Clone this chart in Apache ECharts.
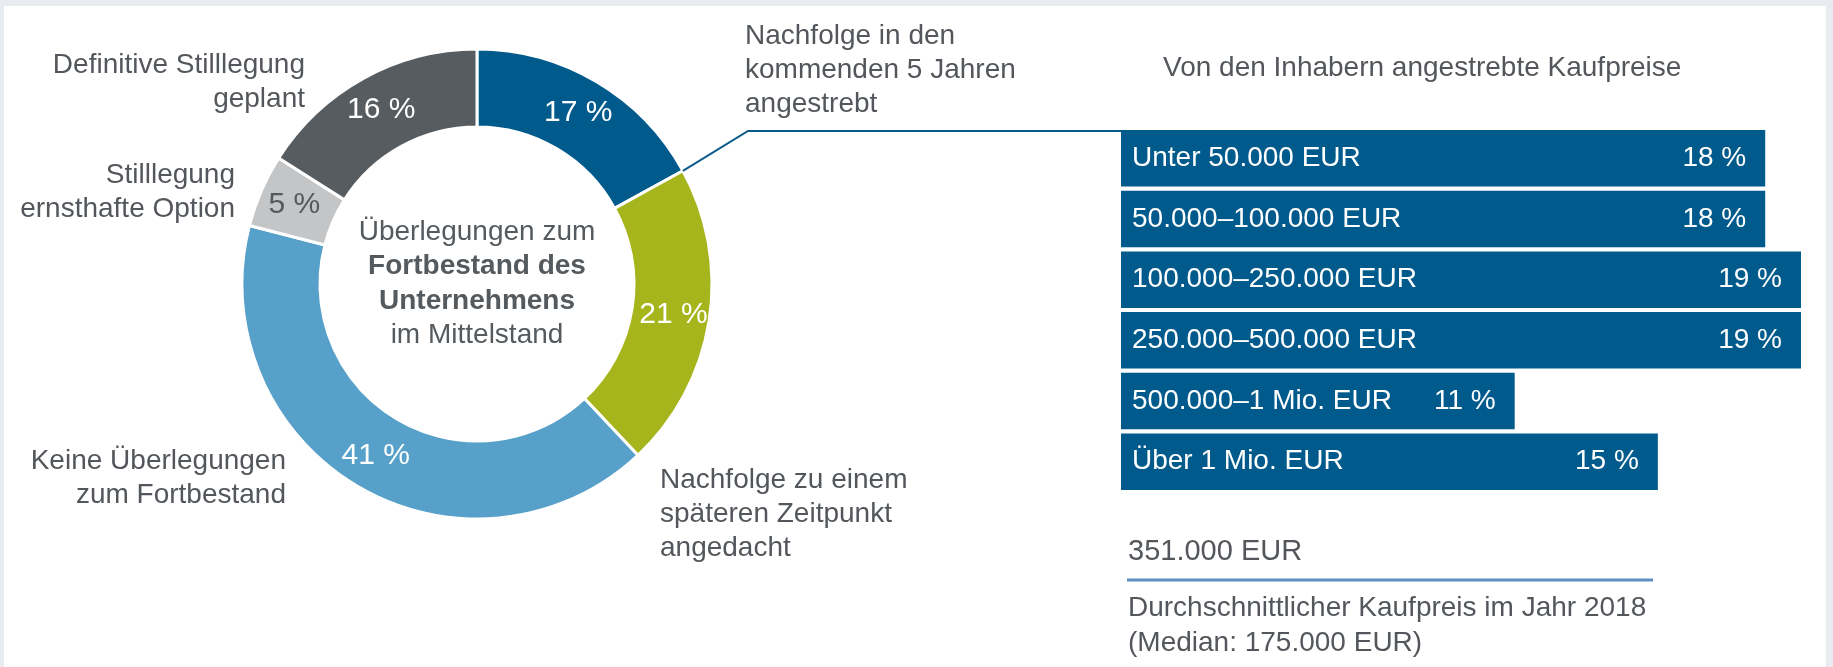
<!DOCTYPE html>
<html>
<head>
<meta charset="utf-8">
<title>Fortbestand des Unternehmens im Mittelstand</title>
<script src="https://cdn.jsdelivr.net/npm/echarts@6/dist/echarts.min.js"></script>
<style>
  html, body { margin: 0; padding: 0; }
  #wrap { position: relative; width: 1833px; height: 667px; background: #e8ecf0; overflow: hidden; }
  #panel { position: absolute; left: 4px; top: 6px; right: 7px; bottom: 0; background: #fff; }
  #chart { position: absolute; left: 0; top: 0; width: 1833px; height: 667px; }
</style>
</head>
<body>
<div id="wrap"><div id="panel"></div><div id="chart"></div></div>
<script>
// Donut: Überlegungen zum Fortbestand (Anteile in %)
var pieNames = [
  "Nachfolge in den\nkommenden 5 Jahren\nangestrebt",
  "Nachfolge zu einem\nspäteren Zeitpunkt\nangedacht",
  "Keine Überlegungen\nzum Fortbestand",
  "Stilllegung\nernsthafte Option",
  "Definitive Stilllegung\ngeplant"
];
var pieValues = [17, 21, 41, 5, 16];
var centerLines = ["Überlegungen zum", "Fortbestand des", "Unternehmens", "im Mittelstand"];

// Balken: angestrebte Kaufpreise (in %)
var barTitle = "Von den Inhabern angestrebte Kaufpreise";
var priceCats = [
  "Unter 50.000 EUR",
  "50.000–100.000 EUR",
  "100.000–250.000 EUR",
  "250.000–500.000 EUR",
  "500.000–1 Mio. EUR",
  "Über 1 Mio. EUR"
];
var priceValues = [18, 18, 19, 19, 11, 15];
var avgPrice = "351.000 EUR";
var avgNote = "Durchschnittlicher Kaufpreis im Jahr 2018\n(Median: 175.000 EUR)";

// styles / layout
var font = "'Liberation Sans', Arial, sans-serif";
var textGray = "#53575b";
var pieColors = ["#005a8c", "#a6b51c", "#56a0c9", "#c3c5c7", "#575c61"];
var pieLabelColors = ["#fff", "#fff", "#fff", "#55595d", "#fff"];
var pieCenter = [477, 284];
var pieRadius = [157, 235];
// outer label anchors: x, y, align
var outerPos = [[745, 70, "left"], [660, 514, "left"], [286, 478, "right"], [235, 192, "right"], [305, 82, "right"]];
var gridLeft = 1121, gridTop = 128;

var chart = echarts.init(document.getElementById("chart"));

// connector from the edge of the first slice to the bar block
var total = pieValues.reduce(function (a, b) { return a + b; }, 0);
var ang = (90 - pieValues[0] / total * 360) * Math.PI / 180;
var sx = pieCenter[0] + pieRadius[1] * Math.cos(ang);
var sy = pieCenter[1] - pieRadius[1] * Math.sin(ang);

var graphics = [
  {
    type: "polyline",
    shape: { points: [[sx, sy], [748, 131], [gridLeft, 131]] },
    style: { stroke: "#0a5a8a", lineWidth: 2, fill: null },
    z: 5
  },
  {
    type: "text", x: 1163, y: 68,
    style: { text: barTitle, font: "28px " + font, fill: textGray, textAlign: "left", textVerticalAlign: "middle" }
  },
  {
    type: "text", x: 1128, y: 552,
    style: { text: avgPrice, font: "29px " + font, fill: textGray, textAlign: "left", textVerticalAlign: "middle" }
  },
  {
    type: "line",
    shape: { x1: 1127, y1: 580, x2: 1653, y2: 580 },
    style: { stroke: "#5b90bf", lineWidth: 3 }
  },
  {
    type: "text", x: 1128, y: 626,
    style: { text: avgNote, font: "28px " + font, fill: textGray, lineHeight: 35, textAlign: "left", textVerticalAlign: "middle" }
  }
];
centerLines.forEach(function (t, i) {
  graphics.push({
    type: "text", x: pieCenter[0], y: pieCenter[1] + (i - 1.5) * 34.5,
    style: {
      text: t,
      font: (i === 1 || i === 2 ? "bold " : "") + "28px " + font,
      fill: "#555a5e", textAlign: "center", textVerticalAlign: "middle"
    }
  });
});

chart.setOption({
  animation: false,
  grid: { left: gridLeft, top: gridTop, right: 32, bottom: 175, containLabel: false },
  xAxis: { type: "value", min: 0, max: 19, show: false },
  yAxis: {
    type: "category",
    data: priceCats,
    inverse: true,
    z: 10,
    axisLine: { show: false },
    axisTick: { show: false },
    splitLine: { show: false },
    axisLabel: { inside: true, margin: 11, color: "#fff", fontSize: 28, fontFamily: font }
  },
  graphic: graphics,
  series: [
    {
      type: "bar",
      data: priceValues,
      barCategoryGap: "7%",
      itemStyle: { color: "#005a8c" },
      label: {
        show: true, position: "insideRight", distance: 19,
        formatter: "{c} %", color: "#fff", fontSize: 28, fontFamily: font
      },
      emphasis: { disabled: true }
    },
    {
      type: "pie",
      center: pieCenter,
      radius: pieRadius,
      startAngle: 90,
      avoidLabelOverlap: false,
      itemStyle: { borderColor: "#fff", borderWidth: 3 },
      label: { show: true, position: "inside", formatter: "{c} %", fontSize: 30, fontFamily: font },
      labelLine: { show: false },
      emphasis: { disabled: true },
      data: pieValues.map(function (v, i) {
        return { name: pieNames[i], value: v, itemStyle: { color: pieColors[i] }, label: { color: pieLabelColors[i] } };
      })
    },
    {
      // same slices again, invisible, only to carry the outer category labels
      type: "pie",
      center: pieCenter,
      radius: pieRadius,
      startAngle: 90,
      silent: true,
      avoidLabelOverlap: false,
      itemStyle: { color: "rgba(0,0,0,0)", borderWidth: 0 },
      label: { show: true, position: "outside", formatter: "{b}", color: textGray, fontSize: 28, lineHeight: 34, fontFamily: font },
      labelLine: { show: false },
      labelLayout: function (p) {
        var q = outerPos[p.dataIndex];
        return { x: q[0], y: q[1], align: q[2], verticalAlign: "middle" };
      },
      data: pieValues.map(function (v, i) { return { name: pieNames[i], value: v }; })
    }
  ]
});
</script>
</body>
</html>
